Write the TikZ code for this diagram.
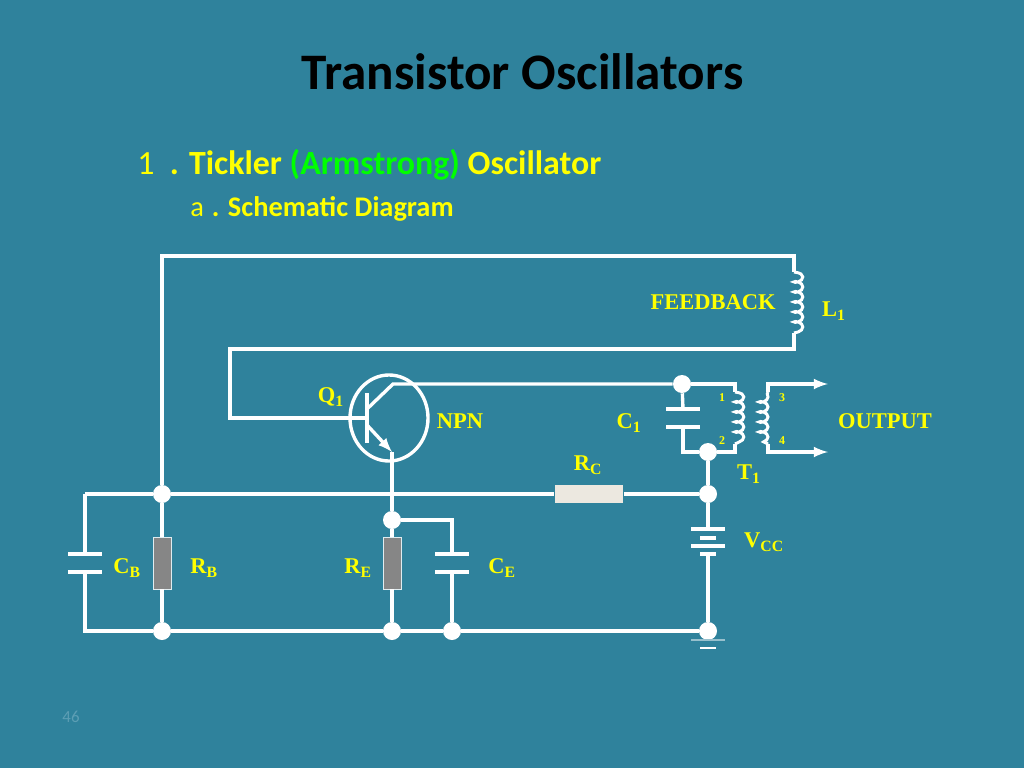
\documentclass[tikz,border=0pt]{standalone}
\usepackage{fontspec}
\setmainfont{Carlito}
\newfontfamily\labelfont{Liberation Serif}[Scale=1]
\usetikzlibrary{arrows,calc,positioning,shapes.geometric,decorations.pathmorphing}
\definecolor{slidebg}{RGB}{47,130,156}
\definecolor{labelyellow}{RGB}{255,255,0}
\definecolor{pagenum}{RGB}{92,158,180}
\definecolor{rcfill}{RGB}{236,232,224}
\tikzstyle{wire}=[draw=white,line width=2.4pt,line join=miter]
\tikzstyle{arrow}=[->,wire]
\tikzstyle{dot}=[circle,fill=white,minimum size=.45cm,inner sep=0pt]
\tikzstyle{plate}=[fill=white,minimum width=.85cm,minimum height=.08cm,inner sep=0pt]
\tikzstyle{shortplate}=[fill=white,minimum width=.42cm,minimum height=.08cm,inner sep=0pt]
\tikzstyle{resistor}=[draw=white!85!slidebg,line width=.6pt,fill=gray!95!white,minimum width=.45cm,minimum height=1.3cm,inner sep=0pt]
\tikzstyle{coil}=[draw=white,line width=2.1pt,decorate,decoration={coil,aspect=.55,segment length=.25cm,amplitude=.11cm,raise=.11cm}]
\tikzstyle{partlabel}=[text=labelyellow,font=\labelfont\bfseries\fontsize{16}{16}\selectfont,inner sep=0pt]
\tikzstyle{pinlabel}=[text=labelyellow,font=\labelfont\bfseries\fontsize{8.5}{8.5}\selectfont,inner sep=0pt]
\tikzset{>=latex}
\begin{document}
\begin{tikzpicture}[x=.025cm,y=-.025cm]
    \fill[slidebg] (0,0) rectangle (1024,768);
    \useasboundingbox (0,0) rectangle (1024,768);

    \node[anchor=center,inner sep=0pt,font=\bfseries\fontsize{36.4}{36.4}\selectfont] (title) at (522.5,72) {Transistor Oscillators};
    \node[anchor=base west,inner sep=0pt,text=labelyellow,font=\fontsize{24.1}{24.1}\selectfont] (head1) at (137,175) {1\ \ \textbf{. Tickler \textcolor{green}{(Armstrong)} Oscillator}};
    \node[anchor=base west,inner sep=0pt,text=labelyellow,font=\fontsize{20.2}{20.2}\selectfont] (head2) at (190,216) {a\hspace{.28em}\textbf{. Schematic Diagram}};
    \node[text=pagenum,inner sep=0pt,font=\fontsize{12}{12}\selectfont] (pageno) at (71,717) {46};

    % junctions
    \node[dot] (jbase) at (162,494) {};
    \node[dot] (jbasegnd) at (162,631) {};
    \node[dot] (jemit) at (392,520) {};
    \node[dot] (jemitgnd) at (392,631) {};
    \node[dot] (jcegnd) at (452,631) {};
    \node[dot] (jgnd) at (708,631) {};
    \node[dot] (jvcc) at (708,494) {};
    \node[dot] (jtank) at (708,452) {};
    \node[dot] (jcoll) at (682,384) {};

    % corners and ends
    \coordinate (fbtl) at (162,256);
    \coordinate (fbtr) at (794,256);
    \coordinate (l1top) at (794,272);
    \coordinate (l1bot) at (794,333);
    \coordinate (fbbr) at (794,349);
    \coordinate (fbbl) at (230,349);
    \coordinate (basein) at (230,418);
    \coordinate (basebar) at (367,418);
    \coordinate (collin) at (367,409);
    \coordinate (collknee) at (393,384);
    \coordinate (emitin) at (367,425);
    \coordinate (emitout) at (392,452);
    \coordinate (t1ptr) at (735,384);
    \coordinate (t1pa) at (735,392);
    \coordinate (t1pb) at (735,444);
    \coordinate (t1pbr) at (735,452);
    \coordinate (t1sa) at (768,392);
    \coordinate (t1sb) at (768,444);
    \coordinate (t1str) at (768,384);
    \coordinate (t1sbr) at (768,452);
    \coordinate (out3) at (828,384);
    \coordinate (out4) at (828,452);
    \coordinate (cbtop) at (85,494);
    \coordinate (cbbot) at (85,631);
    \coordinate (cetop) at (452,520);

    % parts
    \node[draw=white,line width=2.4pt,ellipse,minimum width=1.95cm,minimum height=2.15cm,inner sep=0pt] (q1) at (389,418) {};
    \node[fill=white,minimum width=.08cm,minimum height=1.27cm,inner sep=0pt] (q1bar) at (367,418) {};
    \node[plate] (c1a) at (683,409) {};
    \node[plate] (c1b) at (683,427) {};
    \node[plate] (cba) at (85,554) {};
    \node[plate] (cbb) at (85,572) {};
    \node[plate] (cea) at (452,554) {};
    \node[plate] (ceb) at (452,572) {};
    \node[resistor] (rb) at (162,563) {};
    \node[resistor] (re) at (392,563) {};
    \node[resistor,fill=rcfill,draw=none,minimum width=1.72cm,minimum height=.47cm] (rc) at (589,494) {};
    \node[plate] (vcc1) at (708,529) {};
    \node[shortplate] (vcc2) at (708,538) {};
    \node[plate] (vcc3) at (708,546) {};
    \node[shortplate] (vcc4) at (708,554) {};
    \node[plate,fill=white!50!slidebg,minimum height=.06cm] (gnd1) at (708,640) {};
    \node[shortplate,minimum height=.03cm] (gnd2) at (708,648) {};

    % wires
    \draw[wire] (jbase) -- (fbtl) -- (fbtr) -- (l1top);
    \draw[coil] (l1top) -- (l1bot);
    \draw[wire] (l1bot) -- (fbbr) -- (fbbl) -- (basein) -- (basebar);
    \draw[wire] (collin) -- (collknee) -- (jcoll);
    \draw[wire] (jcoll) -- (t1ptr) -- (t1pa);
    \draw[coil] (t1pa) -- (t1pb);
    \draw[wire] (t1pb) -- (t1pbr) -- (jtank);
    \draw[wire] (jcoll) -- (c1a);
    \draw[wire] (c1b) |- (jtank);
    \draw[wire] (jtank) -- (jvcc);
    \draw[arrow] (t1sa) -- (t1str) -- (out3);
    \draw[coil,decoration={raise=-.11cm}] (t1sa) -- (t1sb);
    \draw[arrow] (t1sb) -- (t1sbr) -- (out4);
    \draw[arrow] (emitin) -- (emitout);
    \draw[wire] (emitout) -- (jemit);
    \draw[wire] (cbtop) -- (jbase);
    \draw[wire] (jbase) -- (rc);
    \draw[wire] (rc) -- (jvcc);
    \draw[wire] (cbtop) -- (cba);
    \draw[wire] (cbb) -- (cbbot) -- (jbasegnd);
    \draw[wire] (jbase) -- (rb);
    \draw[wire] (rb) -- (jbasegnd);
    \draw[wire] (jemit) -- (re);
    \draw[wire] (re) -- (jemitgnd);
    \draw[wire] (jemit) -- (cetop) -- (cea);
    \draw[wire] (ceb) -- (jcegnd);
    \draw[wire] (jbasegnd) -- (jemitgnd);
    \draw[wire] (jemitgnd) -- (jcegnd);
    \draw[wire] (jcegnd) -- (jgnd);
    \draw[wire] (jvcc) -- (vcc1);
    \draw[wire] (vcc4) -- (jgnd);

    % labels
    \node[partlabel,anchor=east] (feedback) at (776,302) {FEEDBACK};
    \node[partlabel] (l1label) at (834,311) {L\textsubscript{1}};
    \node[partlabel] (q1label) at (331,397) {Q\textsubscript{1}};
    \node[partlabel] (npn) at (460,421) {NPN};
    \node[partlabel] (c1label) at (629,423) {C\textsubscript{1}};
    \node[partlabel] (rclabel) at (588,465) {R\textsubscript{C}};
    \node[partlabel] (t1label) at (749,474) {T\textsubscript{1}};
    \node[partlabel] (vcclabel) at (764,542) {V\textsubscript{CC}};
    \node[partlabel] (output) at (885,421) {OUTPUT};
    \node[partlabel] (cblabel) at (127,568) {C\textsubscript{B}};
    \node[partlabel] (rblabel) at (204,568) {R\textsubscript{B}};
    \node[partlabel] (relabel) at (358,568) {R\textsubscript{E}};
    \node[partlabel] (celabel) at (502,568) {C\textsubscript{E}};
    \node[pinlabel] (pin1) at (722,398) {1};
    \node[pinlabel] (pin2) at (722,441) {2};
    \node[pinlabel] (pin3) at (782,398) {3};
    \node[pinlabel] (pin4) at (782,441) {4};
  \end{tikzpicture}
\end{document}
